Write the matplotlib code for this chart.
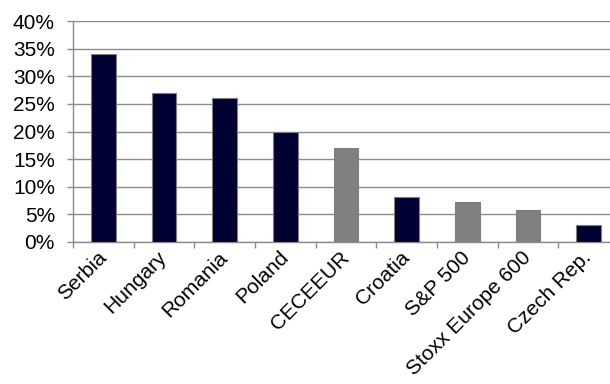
import numpy as np
import matplotlib.pyplot as plt
from matplotlib.ticker import PercentFormatter

plt.rcParams['font.family'] = ['Liberation Sans', 'DejaVu Sans']

names = ['Serbia', 'Hungary', 'Romania', 'Poland', 'CECEEUR', 'Croatia',
         'S&P 500', 'Stoxx Europe 600', 'Czech Rep.']
returns = [34.0, 27.0, 26.0, 20.0, 17.0, 8.1, 7.3, 5.7, 3.1]
is_index = [False, False, False, False, True, False, True, True, False]

navy = '#000033'
grey = '#808080'
cols = [grey if f else navy for f in is_index]

fig = plt.figure(figsize=(6.1, 3.84), dpi=100)
ax = fig.add_axes([0.1197, 0.370, 0.895, 0.575])

x = np.arange(len(names))
ax.bar(x, returns, width=0.41, color=cols, edgecolor='#7f7f7f', linewidth=0.8, zorder=3)

ax.set_xlim(-0.5, len(names) - 0.5)
ax.set_ylim(0, 40)
ax.set_yticks(np.arange(0, 41, 5))
ax.yaxis.set_major_formatter(PercentFormatter(decimals=0))
ax.yaxis.grid(True, color='#8c8c8c', linewidth=1.0, zorder=0)

# ticks sit between the categories, labels at the centres
ax.set_xticks(np.arange(-0.5, len(names), 1.0))
ax.set_xticklabels([])
ax.set_xticks(x, minor=True)
ax.set_xticklabels(names, minor=True, rotation=45, ha='right', va='center',
                   rotation_mode='anchor', fontsize=15)
ax.tick_params(axis='x', which='minor', length=0, pad=9)
ax.tick_params(axis='x', which='major', length=4, color='#8c8c8c', width=1)
ax.tick_params(axis='y', length=4, color='#8c8c8c', width=1, labelsize=15, pad=9)

for s in ['top', 'right']:
    ax.spines[s].set_visible(False)
for s in ['left', 'bottom']:
    ax.spines[s].set_color('#8c8c8c')
    ax.spines[s].set_linewidth(1)

fig.savefig('out.png', dpi=100)
